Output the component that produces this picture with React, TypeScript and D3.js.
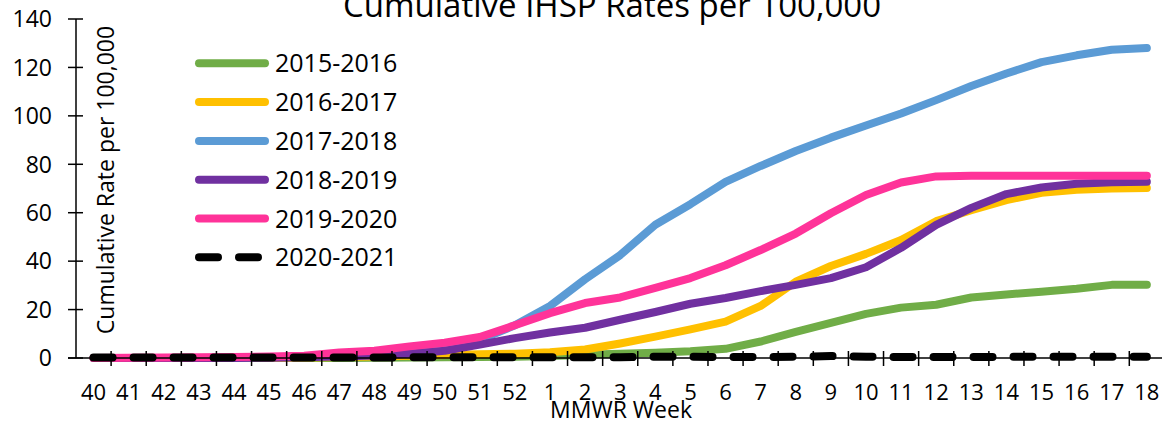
import React from "react";
import * as d3 from "d3";

const weeks: string[] = [
  "40","41","42","43","44","45","46","47","48","49","50","51","52",
  "1","2","3","4","5","6","7","8","9","10","11","12","13","14","15","16","17","18",
];
const yTicks: number[] = [0, 20, 40, 60, 80, 100, 120, 140];

const s2015: number[] = [0,0,0,0,0,0,0,0,0.1,0.2,0.3,0.4,0.5, 0.8,1.3,1.8,2.2,2.8,3.8,6.8,10.8,14.5,18.2,20.8,22,25,26.2,27.4,28.6,30.2,30.3];
const s2016: number[] = [0,0,0,0,0,0,0.2,0.4,0.6,0.9,1.2,1.5,1.8, 2.4,3.5,6,8.8,11.8,15,21.5,31.5,38,43,48.7,56.5,61,65.2,68.2,69.5,70,70.2];
const s2017: number[] = [0,0,0,0,0,0.3,0.6,1,1.5,2.5,4,7.5,13.5, 21.5,32.5,42.5,55,63.5,72.7,79.3,85.5,91,96,101,106.5,112.3,117.5,122.2,125,127.3,128];
const s2018: number[] = [0,0,0,0,0,0.1,0.3,0.6,1,1.8,3,5.5,8.2, 10.5,12.5,15.8,19,22.4,24.8,27.6,30.2,33,37.5,45.5,55,62,67.7,70.4,72,72.6,72.8];
const s2019: number[] = [0,0.1,0.2,0.3,0.4,0.6,0.9,2.3,3,4.8,6.3,8.7,13.5, 18.5,22.7,25,29,33,38.3,44.6,51.4,59.8,67.3,72.5,75,75.3,75.3,75.3,75.3,75.3,75.3];
const s2020: number[] = [0.2,0.2,0.2,0.2,0.2,0.2,0.2,0.2,0.2,0.3,0.3,0.3,0.3, 0.3,0.3,0.3,0.5,0.5,0.4,0.4,0.5,0.8,0.5,0.4,0.4,0.4,0.5,0.5,0.5,0.5,0.5];

const seriesNames: string[] = ["2015-2016","2016-2017","2017-2018","2018-2019","2019-2020","2020-2021"];
const seriesColors: string[] = ["#70AD47","#FFC000","#5B9BD5","#7030A0","#FF3399","#000000"];
const seriesData: number[][] = [s2015, s2016, s2017, s2018, s2019, s2020];

const FONT = "'Open Sans', 'Noto Sans', sans-serif";

export default function App() {
  const W = 1162, H = 423;
  const left = 76, top = 19, bottom = 358;
  const band = 35.11;
  const right = left + band * weeks.length;

  const x = d3.scaleBand<string>().domain(weeks).range([left, right]).paddingInner(0).paddingOuter(0);
  const y = d3.scaleLinear().domain([0, 140]).range([bottom, top]);
  const cx = (w: string) => (x(w) as number) + x.bandwidth() / 2;

  const line = d3.line<number>()
    .x((_, i) => cx(weeks[i]))
    .y((v) => y(v));

  const tickBoundaries = d3.range(1, weeks.length + 1).map((k) => left + k * x.step());

  return (
    <svg width={W} height={H} style={{ position: "absolute", left: 0, top: 0, background: "#fff" }} fontFamily={FONT}>
      <rect x={0} y={0} width={W} height={H} fill="#fff" />
      {/* Title */}
      <text x={612} y={17} textAnchor="middle" fontSize={33} fill="#000">Cumulative IHSP Rates per 100,000</text>

      {/* Series */}
      {seriesData.map((d, i) => (
        <path
          key={seriesNames[i]}
          d={line(d) as string}
          fill="none"
          stroke={seriesColors[i]}
          strokeWidth={8}
          strokeLinejoin="round"
          strokeLinecap="round"
          strokeDasharray={i === 5 ? "19 21" : undefined}
        />
      ))}

      {/* Y axis */}
      <line x1={left} x2={left} y1={top} y2={bottom} stroke="#000" strokeWidth={1.5} />
      {yTicks.map((t) => (
        <g key={t}>
          <line x1={left - 8} x2={left + 7} y1={y(t)} y2={y(t)} stroke="#000" strokeWidth={1.5} />
          <text x={52} y={y(t)} dy="0.36em" textAnchor="end" fontSize={23} fill="#000">{t}</text>
        </g>
      ))}

      {/* X axis */}
      <line x1={left - 8} x2={right} y1={bottom} y2={bottom} stroke="#000" strokeWidth={1.5} />
      {tickBoundaries.map((bx, i) => (
        <line key={i} x1={bx} x2={bx} y1={bottom - 7} y2={bottom + 8} stroke="#000" strokeWidth={1.5} />
      ))}
      {weeks.map((w) => (
        <text key={w} x={cx(w)} y={400} textAnchor="middle" fontSize={22} fill="#000">{w}</text>
      ))}
      <text x={621} y={418} textAnchor="middle" fontSize={23} fill="#000">MMWR Week</text>

      {/* Y axis title */}
      <text transform="translate(114,180) rotate(-90)" textAnchor="middle" fontSize={23} fill="#000">Cumulative Rate per 100,000</text>

      {/* Legend */}
      {seriesNames.map((n, i) => {
        const ly = 63.3 + i * 38.8;
        return (
          <g key={n}>
            <line x1={199} x2={265} y1={ly} y2={ly} stroke={seriesColors[i]} strokeWidth={8}
              strokeLinecap="round" strokeDasharray={i === 5 ? "19 21" : undefined} />
            <text x={275} y={ly} dy="0.36em" fontSize={25} fill="#000">{n}</text>
          </g>
        );
      })}
    </svg>
  );
}
